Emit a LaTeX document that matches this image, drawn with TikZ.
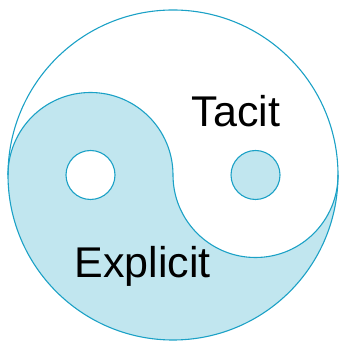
\documentclass[tikz,border=0pt]{standalone}
\usepackage{fontspec}
\setmainfont{Liberation Sans}
\usepackage{tikz}
\definecolor{YYline}{HTML}{1BA1C6}
\definecolor{YYfill}{HTML}{C1E6EF}

\begin{document}
\begin{tikzpicture}[x=1pt, y=1pt]
  \useasboundingbox (0,0) rectangle (339,347);
  \def\R{165}
  \coordinate (c) at (173,172);
  % shaded half
  \fill[YYfill] ([xshift=-\R]c) arc[start angle=180, end angle=0, radius=\R/2]
    arc[start angle=180, end angle=360, radius=\R/2]
    arc[start angle=0, end angle=-180, radius=\R];
  \draw[YYline, line width=1.1pt] ([xshift=-\R]c) arc[start angle=180, end angle=0, radius=\R/2]
    arc[start angle=180, end angle=360, radius=\R/2];
  \draw[YYline, line width=1.1pt] (c) circle (\R);
  % dots
  \node[circle, draw=YYline, line width=1.1pt, fill=white, minimum size=49pt, inner sep=0pt] (dotL) at ([xshift=-\R/2]c) {};
  \node[circle, draw=YYline, line width=1.1pt, fill=YYfill, minimum size=49pt, inner sep=0pt] (dotR) at ([xshift=\R/2]c) {};
  \node[anchor=base, font=\fontsize{43}{43}\selectfont, inner sep=0pt] (tacit) at (236,220) {Tacit};
  \node[anchor=base, font=\fontsize{43}{43}\selectfont, inner sep=0pt] (explicit) at (142.5,69) {Explicit};
\end{tikzpicture}
\end{document}
